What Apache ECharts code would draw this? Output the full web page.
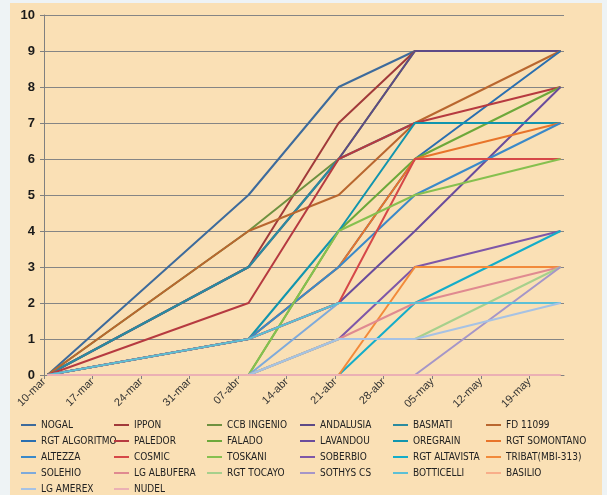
<!DOCTYPE html>
<html>
<head>
<meta charset="utf-8">
<script src="https://cdn.jsdelivr.net/npm/echarts@6/dist/echarts.min.js"></script>
<style>
  html, body { margin: 0; padding: 0; background: #eef3f5; }
  #chart { width: 607px; height: 495px; }
</style>
</head>
<body>
<div id="chart"></div>
<script>
// week tick labels on the x axis
const tickLabels = ['10-mar', '17-mar', '24-mar', '31-mar', '07-abr', '14-abr',
  '21-abr', '28-abr', '05-may', '12-may', '19-may']
// sampling dates, as days after 10-mar (10-mar, 08-abr, 21-abr, 02-may, 23-may)
const sampleDays = [0, 29, 42, 53, 74]

// values per variety at each sampling date
const nogal = [0, 5, 8, 9, 9]
const ippon = [0, 3, 7, 9, 9]
const ccbIngenio = [0, 4, 6, 9, 9]
const andalusia = [0, 3, 6, 9, 9]
const basmati = [0, 3, 6, 7, 7]
const fd11099 = [0, 4, 5, 7, 9]
const rgtAlgoritmo = [0, 1, 3, 6, 9]
const paledor = [0, 2, 6, 7, 8]
const falado = [0, 0, 4, 6, 8]
const lavandou = [0, 1, 2, 4, 8]
const oregrain = [0, 1, 4, 7, 7]
const rgtSomontano = [0, 1, 3, 6, 7]
const altezza = [0, 1, 3, 5, 7]
const cosmic = [0, 1, 2, 6, 6]
const toskani = [0, 0, 4, 5, 6]
const soberbio = [0, 0, 1, 3, 4]
const rgtAltavista = [0, 0, 0, 2, 4]
const tribat = [0, 0, 0, 3, 3]
const solehio = [0, 0, 2, 2, 2]
const lgAlbufera = [0, 0, 1, 2, 3]
const rgtTocayo = [0, 0, 1, 1, 3]
const sothysCs = [0, 0, 0, 0, 3]
const botticelli = [0, 1, 2, 2, 2]
const basilio = [0, 0, 0, 0, 0]
const lgAmerex = [0, 0, 1, 1, 2]
const nudel = [0, 0, 0, 0, 0]

const varieties = [
  ['NOGAL', nogal, '#3d6b9c'],
  ['IPPON', ippon, '#a13a3a'],
  ['CCB INGENIO', ccbIngenio, '#6f9140'],
  ['ANDALUSIA', andalusia, '#5d4a86'],
  ['BASMATI', basmati, '#2b8b9f'],
  ['FD 11099', fd11099, '#b9672f'],
  ['RGT ALGORITMO', rgtAlgoritmo, '#2a6fb0'],
  ['PALEDOR', paledor, '#b63a40'],
  ['FALADO', falado, '#6da83a'],
  ['LAVANDOU', lavandou, '#6a4c9c'],
  ['OREGRAIN', oregrain, '#1195ae'],
  ['RGT SOMONTANO', rgtSomontano, '#e8742a'],
  ['ALTEZZA', altezza, '#3a89c9'],
  ['COSMIC', cosmic, '#d64848'],
  ['TOSKANI', toskani, '#86c04f'],
  ['SOBERBIO', soberbio, '#7e57a8'],
  ['RGT ALTAVISTA', rgtAltavista, '#14adc9'],
  ['TRIBAT(MBI-313)', tribat, '#f28a3a'],
  ['SOLEHIO', solehio, '#7eaadb'],
  ['LG ALBUFERA', lgAlbufera, '#e08a90'],
  ['RGT TOCAYO', rgtTocayo, '#a6d08c'],
  ['SOTHYS CS', sothysCs, '#a596c8'],
  ['BOTTICELLI', botticelli, '#5cc0d6'],
  ['BASILIO', basilio, '#f8ae8a'],
  ['LG AMEREX', lgAmerex, '#a6c2e4'],
  ['NUDEL', nudel, '#ebb0b4']
]

const chart = echarts.init(document.getElementById('chart'))

// one vertical legend per column so the six columns line up
const legendCols = [0, 1, 2, 3, 4, 5].map((c) => ({
  orient: 'vertical',
  left: [21, 114, 207, 300, 393, 486][c],
  top: 418,
  height: 120,
  padding: 0,
  itemGap: 2,
  itemWidth: 15,
  itemHeight: 2,
  icon: 'rect',
  selectedMode: false,
  textStyle: {
    fontFamily: 'Liberation Sans Narrow, DejaVu Sans Condensed, sans-serif',
    fontSize: 10,
    lineHeight: 14,
    color: '#222'
  },
  data: varieties.filter((v, i) => i % 6 === c).map((v) => v[0])
}))

chart.setOption({
  animation: false,
  backgroundColor: 'transparent',
  graphic: [
    {
      type: 'rect',
      z: -10,
      shape: { x: 10, y: 3, width: 592, height: 492 },
      style: { fill: '#fae0b5' }
    }
  ],
  legend: legendCols,
  grid: { left: 44, right: 43, top: 15, bottom: 120 },
  xAxis: {
    type: 'value',
    min: 0,
    max: 75,
    interval: 7,
    axisLine: { show: true, lineStyle: { color: '#808080' } },
    axisTick: { show: true, length: 4, lineStyle: { color: '#808080' } },
    splitLine: { show: false },
    axisLabel: {
      rotate: 45,
      margin: 5,
      showMaxLabel: false,
      fontFamily: 'Liberation Sans, Arial, sans-serif',
      fontSize: 11,
      color: '#333',
      formatter: (v) => tickLabels[v / 7] || ''
    }
  },
  yAxis: {
    type: 'value',
    min: 0,
    max: 10,
    interval: 1,
    axisLine: { show: true, lineStyle: { color: '#808080' } },
    axisTick: { show: true, length: 4, lineStyle: { color: '#808080' } },
    splitLine: { lineStyle: { color: '#858585' } },
    axisLabel: {
      margin: 9,
      fontFamily: 'Liberation Sans, Arial, sans-serif',
      fontWeight: 'bold',
      fontSize: 13,
      color: '#1a1a1a'
    }
  },
  series: varieties.map(([name, values, color]) => ({
    name,
    type: 'line',
    symbol: 'none',
    color,
    lineStyle: { width: 2, color },
    // Excel places each date in the middle of its day
    data: values.map((v, i) => [sampleDays[i] + 0.5, v])
  }))
})
</script>
</body>
</html>
